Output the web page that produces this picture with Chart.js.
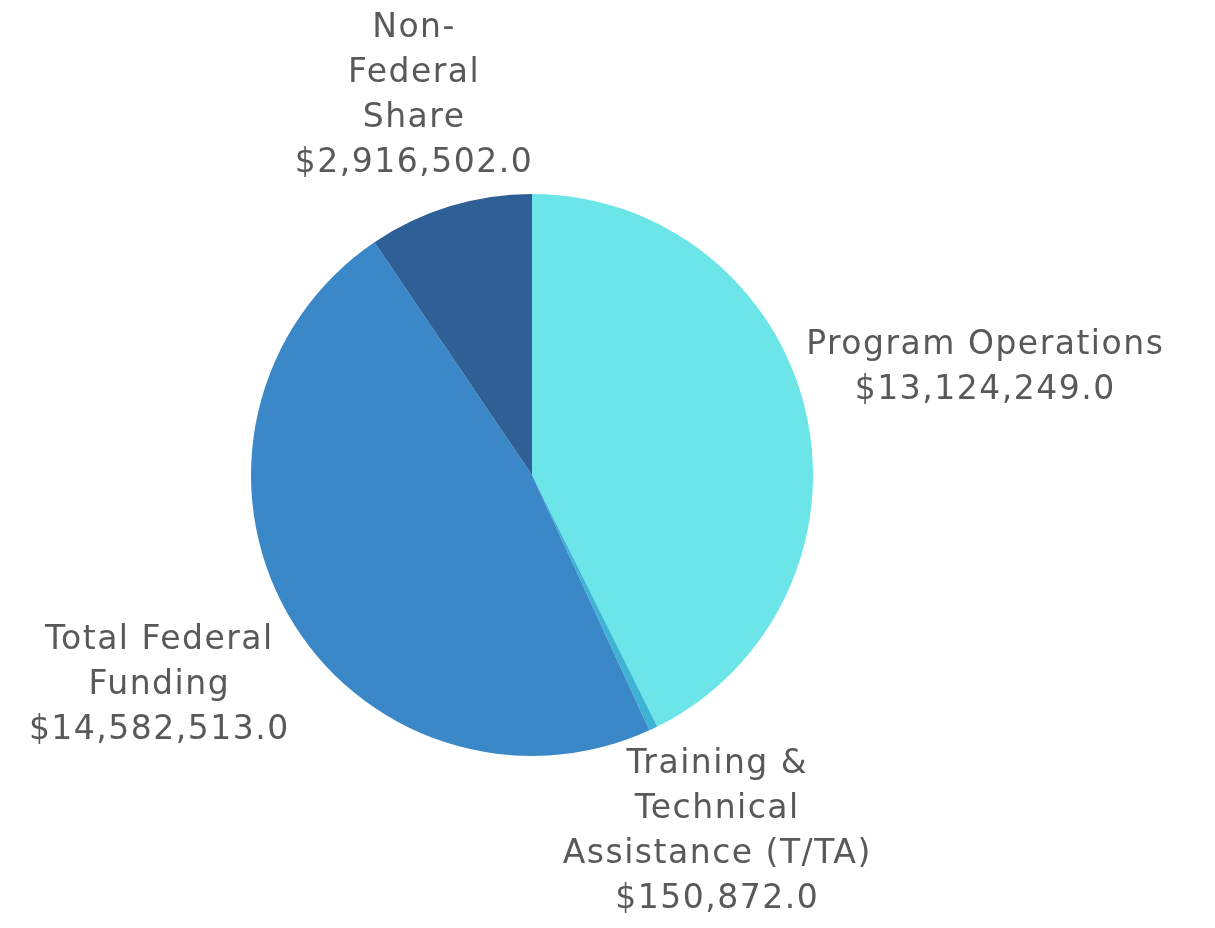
<!DOCTYPE html>
<html lang="en">
<head>
<title>Funding Pie</title>
<meta charset="UTF-8">
<script src="https://cdn.jsdelivr.net/npm/chart.js"></script>
<style>
body {margin: 0; background: #fff;}
canvas {display: block;}
</style>
</head>
<body>
<canvas id="pieChart" width="1215" height="928"></canvas>
<script>
// data
var categories = [
  ['Program Operations'],
  ['Training &', 'Technical', 'Assistance (T/TA)'],
  ['Total Federal', 'Funding'],
  ['Non-', 'Federal', 'Share']
];
var amounts = [13124249, 150872, 14582513, 2916502];
var sliceColors = ['#6be5e8', '#3db3d6', '#3a88c8', '#2e5f97'];

var FONT = '33px "DejaVu Sans", sans-serif';
var LINE_H = 45;

function money(v) {
  return '$' + v.toLocaleString('en-US') + '.0';
}

// draws the outside labels, box pushed just clear of the circle
var outsideLabels = {
  id: 'outsideLabels',
  afterDraw: function(chart) {
    var ctx = chart.ctx;
    var meta = chart.getDatasetMeta(0);
    ctx.save();
    ctx.font = FONT;
    ctx.letterSpacing = '1.5px';
    ctx.fillStyle = '#595959';
    ctx.textAlign = 'center';
    ctx.textBaseline = 'middle';
    meta.data.forEach(function(arc, i) {
      var p = arc.getProps(['x', 'y', 'startAngle', 'endAngle', 'outerRadius'], true);
      var mid = (p.startAngle + p.endAngle) / 2;
      var dx = Math.cos(mid), dy = Math.sin(mid);
      var lines = categories[i].concat([money(amounts[i])]);
      var w = 0;
      lines.forEach(function(l) { w = Math.max(w, ctx.measureText(l).width); });
      var h = lines.length * LINE_H;
      var ext = Math.abs(dx) * w / 2 + Math.abs(dy) * h / 2;
      var cx = p.x + dx * (p.outerRadius + ext);
      var cy = p.y + dy * (p.outerRadius + ext);
      // keep inside the canvas
      cx = Math.min(Math.max(cx, w / 2 + 8), chart.width - w / 2 - 8);
      cy = Math.min(Math.max(cy, h / 2 + 6), chart.height - h / 2 - 6);
      var top = cy - h / 2 + LINE_H / 2;
      lines.forEach(function(l, k) {
        ctx.fillText(l, cx, top + k * LINE_H);
      });
    });
    ctx.restore();
  }
};

new Chart(document.getElementById('pieChart'), {
  type: 'pie',
  data: {
    labels: categories.map(function(c) { return c.join(' '); }),
    datasets: [{
      data: amounts,
      backgroundColor: sliceColors,
      borderWidth: 0
    }]
  },
  options: {
    responsive: false,
    animation: false,
    layout: {padding: {top: 194, bottom: 172, left: 251, right: 402}},
    plugins: {
      legend: {display: false},
      tooltip: {enabled: false}
    }
  },
  plugins: [outsideLabels]
});
</script>
</body>
</html>
